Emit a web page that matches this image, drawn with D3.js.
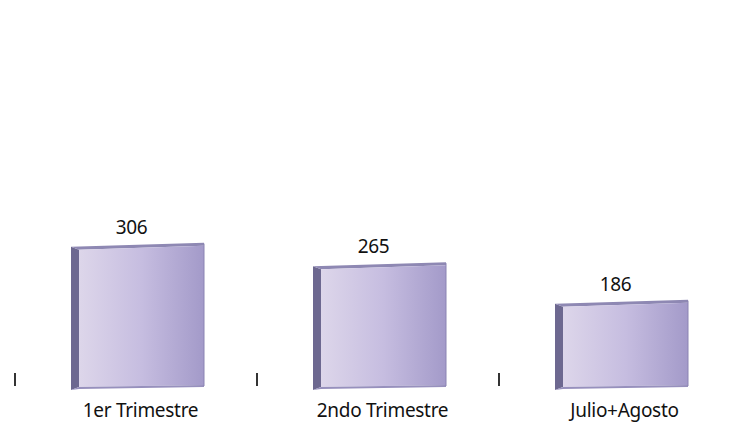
<!DOCTYPE html>
<html><head><meta charset="utf-8">
<script src="https://cdn.jsdelivr.net/npm/d3@7/dist/d3.min.js"></script>
<style>body{margin:0;background:#fff}svg{display:block}</style>
</head><body>
<script>
const categories = ["1er Trimestre", "2ndo Trimestre", "Julio+Agosto"];
const values = [306, 265, 186];

const W = 738, H = 422;
const svg = d3.select("body").append("svg").attr("width", W).attr("height", H);

const x = d3.scaleBand().domain(categories).range([15, 741]).paddingInner(0).paddingOuter(0);
const y = d3.scaleLinear().domain([0, 800]).range([388, 8]);

const defs = svg.append("defs");
const g = defs.append("linearGradient").attr("id", "front").attr("x1", 0).attr("x2", 1).attr("y1", 0).attr("y2", 0);
g.append("stop").attr("offset", "0%").attr("stop-color", "#ddd6ea");
g.append("stop").attr("offset", "50%").attr("stop-color", "#c6bde0");
g.append("stop").attr("offset", "100%").attr("stop-color", "#a39ac9");

// category boundary ticks
svg.selectAll("line.tick").data(categories).enter().append("line")
  .attr("x1", d => x(d)).attr("x2", d => x(d))
  .attr("y1", 373).attr("y2", 386)
  .attr("stroke", "#000").attr("stroke-width", 1.6);

const bw = x.bandwidth();
const barW = 133, depth = 8;
const bars = svg.selectAll("g.bar").data(categories).enter().append("g");
bars.each(function(d, i) {
  const sel = d3.select(this);
  const cx = x(d) + bw / 2 + 1.5;
  const x0 = cx - barW / 2, x1 = cx + barW / 2;
  const t = y(values[i]), b = y(0);
  // side face
  sel.append("polygon")
    .attr("points", [[x0, t + 4], [x0 + depth, t + 7], [x0 + depth, b - 1], [x0, b + 2]].map(p => p.join(",")).join(" "))
    .attr("fill", "#6d6890");
  // top face
  sel.append("polygon")
    .attr("points", [[x0, t + 4], [x1, t], [x1, t + 3], [x0 + depth, t + 7]].map(p => p.join(",")).join(" "))
    .attr("fill", "#8e88b3");
  // front face
  sel.append("polygon")
    .attr("points", [[x0 + depth, t + 7], [x1, t + 3], [x1, b - 3], [x0 + depth, b - 1]].map(p => p.join(",")).join(" "))
    .attr("fill", "url(#front)");
  // bottom edge
  sel.append("polygon")
    .attr("points", [[x0, b + 2], [x0 + depth, b - 1], [x1, b - 3], [x1, b - 1], [x0 + depth, b + 1]].map(p => p.join(",")).join(" "))
    .attr("fill", "#9790bd");
  // right edge
  sel.append("line").attr("x1", x1).attr("x2", x1).attr("y1", t + 1).attr("y2", b - 2)
    .attr("stroke", "#8a83b2").attr("stroke-width", 1);
  // value label
  sel.append("text").attr("x", cx - 6).attr("y", t - 9)
    .attr("text-anchor", "middle").attr("font-family", "Noto Sans, sans-serif")
    .attr("font-size", 19).attr("letter-spacing", -0.3).attr("fill", "#111").text(values[i]);
  // category label
  sel.append("text").attr("x", cx + 3).attr("y", 417)
    .attr("text-anchor", "middle").attr("font-family", "Noto Sans, sans-serif")
    .attr("font-size", 19).attr("letter-spacing", -0.3).attr("fill", "#111").text(d);
});
</script>
</body></html>
